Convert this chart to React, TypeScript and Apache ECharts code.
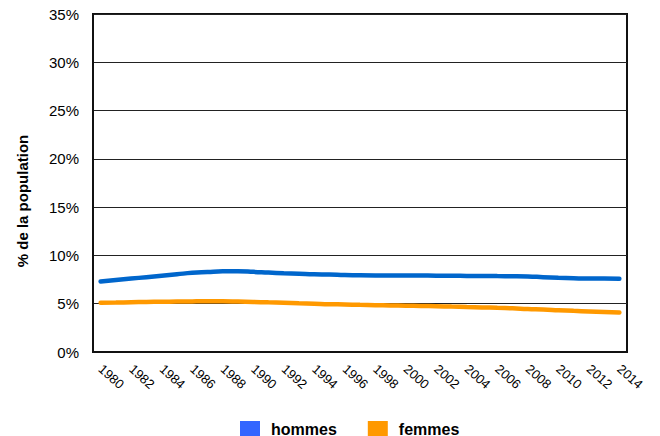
import React, { useEffect, useRef } from "react";
import * as echarts from "echarts";

const years: string[] = [
  "1980","1981","1982","1983","1984","1985","1986","1987","1988","1989",
  "1990","1991","1992","1993","1994","1995","1996","1997","1998","1999",
  "2000","2001","2002","2003","2004","2005","2006","2007","2008","2009",
  "2010","2011","2012","2013","2014",
];

const hommes: number[] = [
  7.3, 7.45, 7.6, 7.75, 7.9, 8.05, 8.2, 8.28, 8.35, 8.35,
  8.3, 8.22, 8.15, 8.1, 8.05, 8.02, 7.97, 7.94, 7.93, 7.93,
  7.93, 7.92, 7.9, 7.9, 7.88, 7.87, 7.86, 7.85, 7.82, 7.75,
  7.68, 7.63, 7.6, 7.6, 7.58,
];

const femmes: number[] = [
  5.1, 5.12, 5.15, 5.18, 5.2, 5.22, 5.24, 5.25, 5.25, 5.22,
  5.18, 5.14, 5.1, 5.05, 5.0, 4.95, 4.92, 4.88, 4.85, 4.82,
  4.8, 4.77, 4.74, 4.7, 4.66, 4.62, 4.57, 4.52, 4.45, 4.4,
  4.33, 4.26, 4.2, 4.14, 4.08,
];

const seriesNames = ["hommes", "femmes"];
const yAxisTitle = "% de la population";

const FONT = "'Liberation Sans', Arial, sans-serif";

export default function App() {
  const ref = useRef<HTMLDivElement>(null);
  useEffect(() => {
    if (!ref.current) return;
    const chart = echarts.init(ref.current, null, { renderer: "svg" });
    chart.setOption({
      animation: false,
      backgroundColor: "#ffffff",
      textStyle: { fontFamily: FONT },
      grid: {
        left: 93,
        right: 33,
        top: 14,
        bottom: 84,
        show: true,
        borderColor: "#111",
        borderWidth: 2,
      },
      legend: {
        data: [
          { name: seriesNames[0], itemStyle: { color: "#3366ff" } },
          { name: seriesNames[1], itemStyle: { color: "#ff9900" } },
        ],
        left: 235,
        top: 416,
        itemWidth: 20,
        itemHeight: 16,
        itemGap: 31,
        icon: "rect",
        textStyle: {
          fontFamily: FONT,
          fontSize: 16,
          fontWeight: "bold",
          color: "#000",
          padding: [0, 0, 0, 6],
        },
      },
      xAxis: {
        type: "category",
        data: years,
        boundaryGap: true,
        axisLine: { show: true, lineStyle: { color: "#111", width: 2 } },
        axisTick: { show: false },
        axisLabel: {
          interval: 1,
          rotate: -42,
          margin: 15,
          fontFamily: FONT,
          fontSize: 13,
          color: "#000",
        },
        splitLine: { show: false },
      },
      yAxis: {
        type: "value",
        min: 0,
        max: 35,
        interval: 5,
        axisLine: { show: true, lineStyle: { color: "#111", width: 2 } },
        axisTick: { show: false },
        axisLabel: {
          formatter: "{value}%",
          margin: 14,
          fontFamily: FONT,
          fontSize: 15,
          color: "#000",
        },
        splitLine: { show: true, lineStyle: { color: "#222", width: 1 } },
      },
      graphic: [
        {
          type: "text",
          x: 22,
          y: 201,
          rotation: Math.PI / 2,
          style: {
            text: yAxisTitle,
            fontFamily: FONT,
            fontSize: 15,
            fontWeight: "bold",
            fill: "#000",
            align: "center",
            verticalAlign: "middle",
          },
        },
      ],
      series: [
        {
          name: seriesNames[0],
          type: "line",
          data: hommes,
          smooth: true,
          showSymbol: false,
          symbol: "none",
          lineStyle: { color: "#0066cc", width: 4.5, cap: "round" },
          itemStyle: { color: "#0066cc" },
          z: 3,
        },
        {
          name: seriesNames[1],
          type: "line",
          data: femmes,
          smooth: true,
          showSymbol: false,
          symbol: "none",
          lineStyle: { color: "#ff9900", width: 4.5, cap: "round" },
          itemStyle: { color: "#ff9900" },
          z: 3,
        },
      ],
    });
    return () => chart.dispose();
  }, []);
  return (
    <div
      ref={ref}
      style={{ position: "fixed", left: 0, top: 0, width: 660, height: 436 }}
    />
  );
}
